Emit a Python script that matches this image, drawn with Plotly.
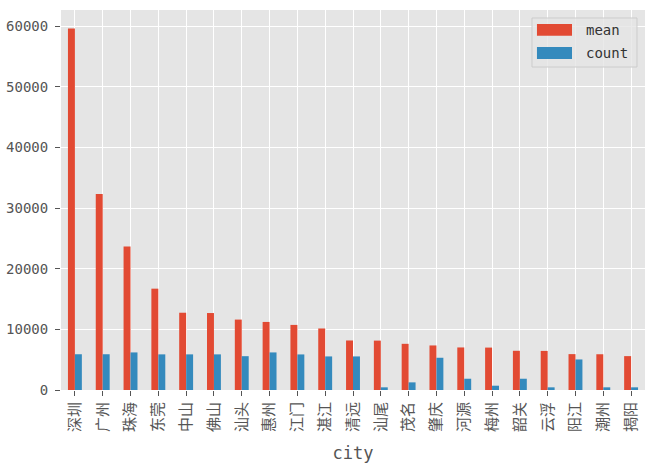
import plotly.graph_objects as go

cities = ["深圳", "广州", "珠海", "东莞", "中山", "佛山", "汕头", "惠州", "江门", "湛江",
          "清远", "汕尾", "茂名", "肇庆", "河源", "梅州", "韶关", "云浮", "阳江", "潮州", "揭阳"]
mean_vals = [59650, 32350, 23680, 16720, 12750, 12700, 11620, 11230, 10740, 10150,
             8170, 8150, 7620, 7350, 7020, 7000, 6470, 6450, 5920, 5900, 5590]
count_vals = [5900, 5900, 6200, 5880, 5880, 5880, 5580, 6200, 5870, 5540,
              5540, 440, 1260, 5320, 1860, 710, 1860, 440, 5040, 440, 440]
y_ticks = [0, 10000, 20000, 30000, 40000, 50000, 60000]
y_ticktext = ["0", "10000", "20000", "30000", "40000", "50000", "60000"]
series_names = ["mean", "count"]

RED = "#E24A33"
BLUE = "#348ABD"
GRAY = "#555555"
MONO = "DejaVu Sans Mono, Noto Sans CJK SC"
colors = [RED, BLUE]

fig = go.Figure()
for name, vals, col in zip(series_names, [mean_vals, count_vals], colors):
    fig.add_trace(go.Bar(x=cities, y=vals, name=name, marker_color=col,
                         marker_line_width=0, showlegend=False))

# custom legend (matplotlib-style wide patches)
shapes = [dict(type="rect", xref="paper", yref="paper", x0=0.8065, x1=0.9863,
               y0=0.85, y1=0.979, fillcolor="rgba(229,229,229,0.8)",
               line=dict(color="#CCCCCC", width=1), layer="above")]
annotations = []
patch_rows = [(0.932, 0.963, 0.947), (0.871, 0.9026, 0.887)]
for name, col, (py0, py1, ty) in zip(series_names, colors, patch_rows):
    shapes.append(dict(type="rect", xref="paper", yref="paper", x0=0.815, x1=0.875,
                       y0=py0, y1=py1, fillcolor=col, line=dict(width=0), layer="above"))
    annotations.append(dict(xref="paper", yref="paper", x=0.8955, y=ty, text=name,
                            showarrow=False, xanchor="left", yanchor="middle",
                            font=dict(family=MONO, size=14, color="#333333")))

fig.update_layout(
    width=662, height=470,
    margin=dict(l=61, r=17, t=10, b=80),
    paper_bgcolor="white", plot_bgcolor="#E5E5E5",
    barmode="group", bargap=0.5, bargroupgap=0,
    font=dict(family=MONO, color=GRAY, size=13),
    shapes=shapes, annotations=annotations,
)
fig.update_xaxes(
    type="category", showgrid=True, gridcolor="white", gridwidth=1,
    ticks="outside", ticklen=5, tickcolor=GRAY, tickwidth=1,
    tickangle=-90, tickfont=dict(family="Noto Sans CJK SC", size=15, color=GRAY),
    title=dict(text="city", font=dict(family=MONO, size=17, color=GRAY), standoff=16),
    zeroline=False, showline=False, automargin=False,
)
fig.update_yaxes(
    range=[0, 62700], tickvals=y_ticks, ticktext=y_ticktext,
    showgrid=True, gridcolor="white", gridwidth=1,
    ticks="outside", ticklen=5, tickcolor=GRAY, tickwidth=1,
    tickfont=dict(family=MONO, size=14, color=GRAY), ticklabelstandoff=4,
    zeroline=False, showline=False, automargin=False,
)

fig.write_html("out.html")
